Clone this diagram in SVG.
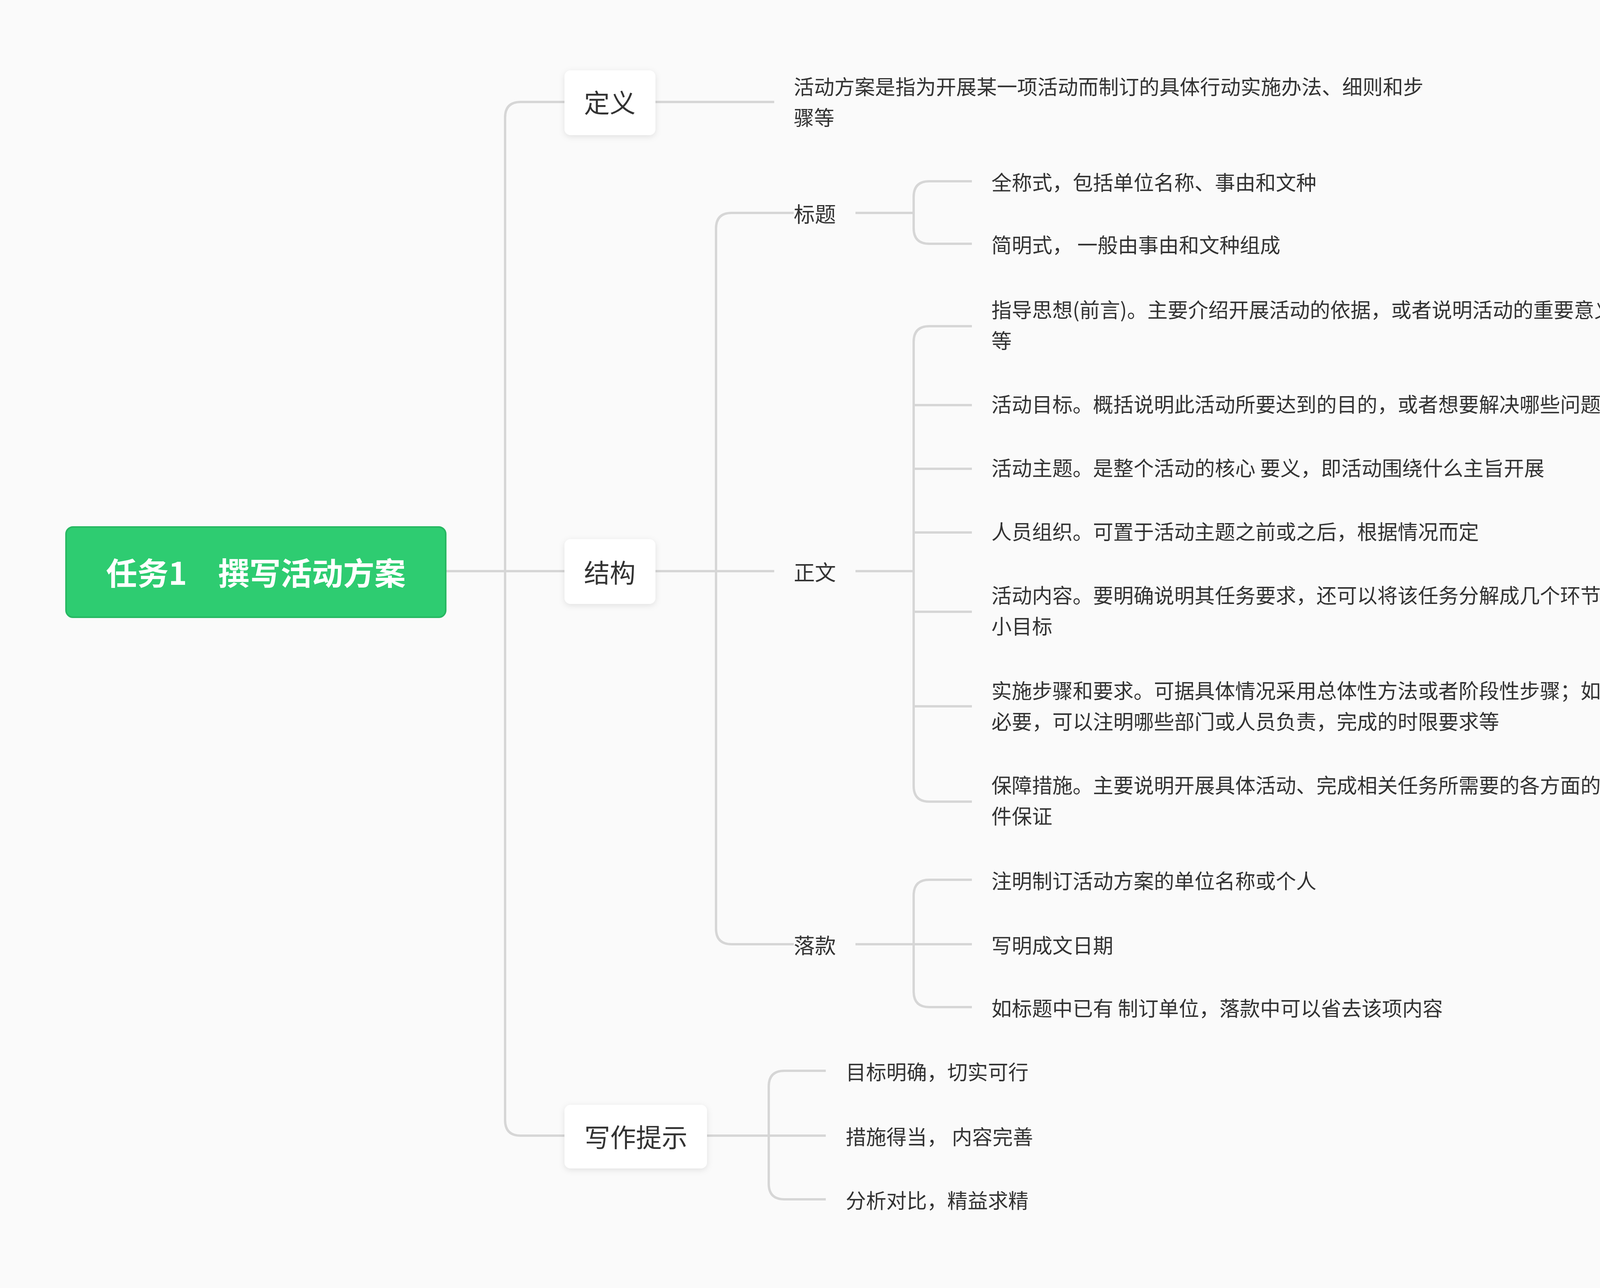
<svg xmlns="http://www.w3.org/2000/svg" width="4408" height="3297" viewBox="0 0 4408 3297">
<defs>
<filter id="sh" x="-20%" y="-20%" width="140%" height="140%"><feDropShadow dx="0" dy="4" stdDeviation="8" flood-color="#000" flood-opacity="0.10"/></filter>
</defs>
<style>
text{font-family:"Noto Sans CJK SC","Noto Sans",sans-serif;fill:#333;dominant-baseline:central}
.t{font-size:52px}
.n{font-size:66px}
.l{font-size:54px}
.c{fill:none;stroke:#d6d6d6;stroke-width:6}
.b{fill:#fff;filter:url(#sh)}
</style>
<rect width="4408" height="3297" fill="#fafafa"/>
<g id="connectors" class="c">
<path d="M1141 1462H1445"/>
<path d="M1445 261H1333Q1293 261 1293 301V2867Q1293 2907 1333 2907H1445"/>
<path d="M1678 261H1982"/>
<path d="M1678 1462H1982"/>
<path d="M2032 545H1873Q1833 545 1833 585V2377Q1833 2417 1873 2417H2032"/>
<path d="M2190 545H2339M2488 464H2379Q2339 464 2339 504V584Q2339 624 2379 624H2488"/>
<path d="M2190 1462H2339M2488 835H2379Q2339 835 2339 875V2012Q2339 2052 2379 2052H2488M2339 1037H2488M2339 1200H2488M2339 1363H2488M2339 1566H2488M2339 1808H2488"/>
<path d="M2190 2417H2488M2488 2252H2379Q2339 2252 2339 2292V2538Q2339 2578 2379 2578H2488"/>
<path d="M1810 2907H2114M2114 2741H2008Q1968 2741 1968 2781V3030Q1968 3070 2008 3070H2114"/>
</g>
<g id="root"><rect x="169" y="1349" width="972" height="231" rx="18" fill="#2ecc71" stroke="#27b862" stroke-width="4"/><text x="655" y="1462" text-anchor="middle" style="font-size:80px;font-weight:bold;fill:#fff">任务1　撰写活动方案</text></g>
<g id="n-def"><rect class="b" x="1445" y="180" width="233" height="166" rx="16"/><text class="n" x="1561" y="259" text-anchor="middle">定义</text></g>
<g id="n-str"><rect class="b" x="1445" y="1380" width="233" height="166" rx="16"/><text class="n" x="1561" y="1462" text-anchor="middle">结构</text></g>
<g id="n-tip"><rect class="b" x="1445" y="2828" width="365" height="163" rx="16"/><text class="n" x="1628" y="2907" text-anchor="middle">写作提示</text></g>
<g id="def-text"><text class="t" x="2032" y="219">活动方案是指为开展某一项活动而制订的具体行动实施办法、细则和步</text><text class="t" x="2032" y="298">骤等</text></g>
<g id="biaoti"><text class="l" x="2032" y="545">标题</text></g>
<g id="zhengwen"><text class="l" x="2032" y="1462">正文</text></g>
<g id="luokuan"><text class="l" x="2032" y="2417">落款</text></g>
<g id="bt-items">
<text class="t" x="2538" y="464">全称式，包括单位名称、事由和文种</text>
<text class="t" x="2538" y="624">简明式， 一般由事由和文种组成</text>
</g>
<g id="zw-items">
<text class="t" x="2538" y="790">指导思想(前言)。主要介绍开展活动的依据，或者说明活动的重要意义</text>
<text class="t" x="2538" y="869">等</text>
<text class="t" x="2538" y="1032">活动目标。概括说明此活动所要达到的目的，或者想要解决哪些问题等</text>
<text class="t" x="2538" y="1195">活动主题。是整个活动的核心 要义，即活动围绕什么主旨开展</text>
<text class="t" x="2538" y="1358">人员组织。可置于活动主题之前或之后，根据情况而定</text>
<text class="t" x="2538" y="1521">活动内容。要明确说明其任务要求，还可以将该任务分解成几个环节的</text>
<text class="t" x="2538" y="1600">小目标</text>
<text class="t" x="2538" y="1765">实施步骤和要求。可据具体情况采用总体性方法或者阶段性步骤；如有</text>
<text class="t" x="2538" y="1844">必要，可以注明哪些部门或人员负责，完成的时限要求等</text>
<text class="t" x="2538" y="2007">保障措施。主要说明开展具体活动、完成相关任务所需要的各方面的条</text>
<text class="t" x="2538" y="2086">件保证</text>
</g>
<g id="lk-items">
<text class="t" x="2538" y="2252">注明制订活动方案的单位名称或个人</text>
<text class="t" x="2538" y="2417">写明成文日期</text>
<text class="t" x="2538" y="2578">如标题中已有 制订单位，落款中可以省去该项内容</text>
</g>
<g id="tip-items">
<text class="t" x="2165" y="2741">目标明确，切实可行</text>
<text class="t" x="2165" y="2907">措施得当， 内容完善</text>
<text class="t" x="2165" y="3070">分析对比，精益求精</text>
</g>
</svg>
